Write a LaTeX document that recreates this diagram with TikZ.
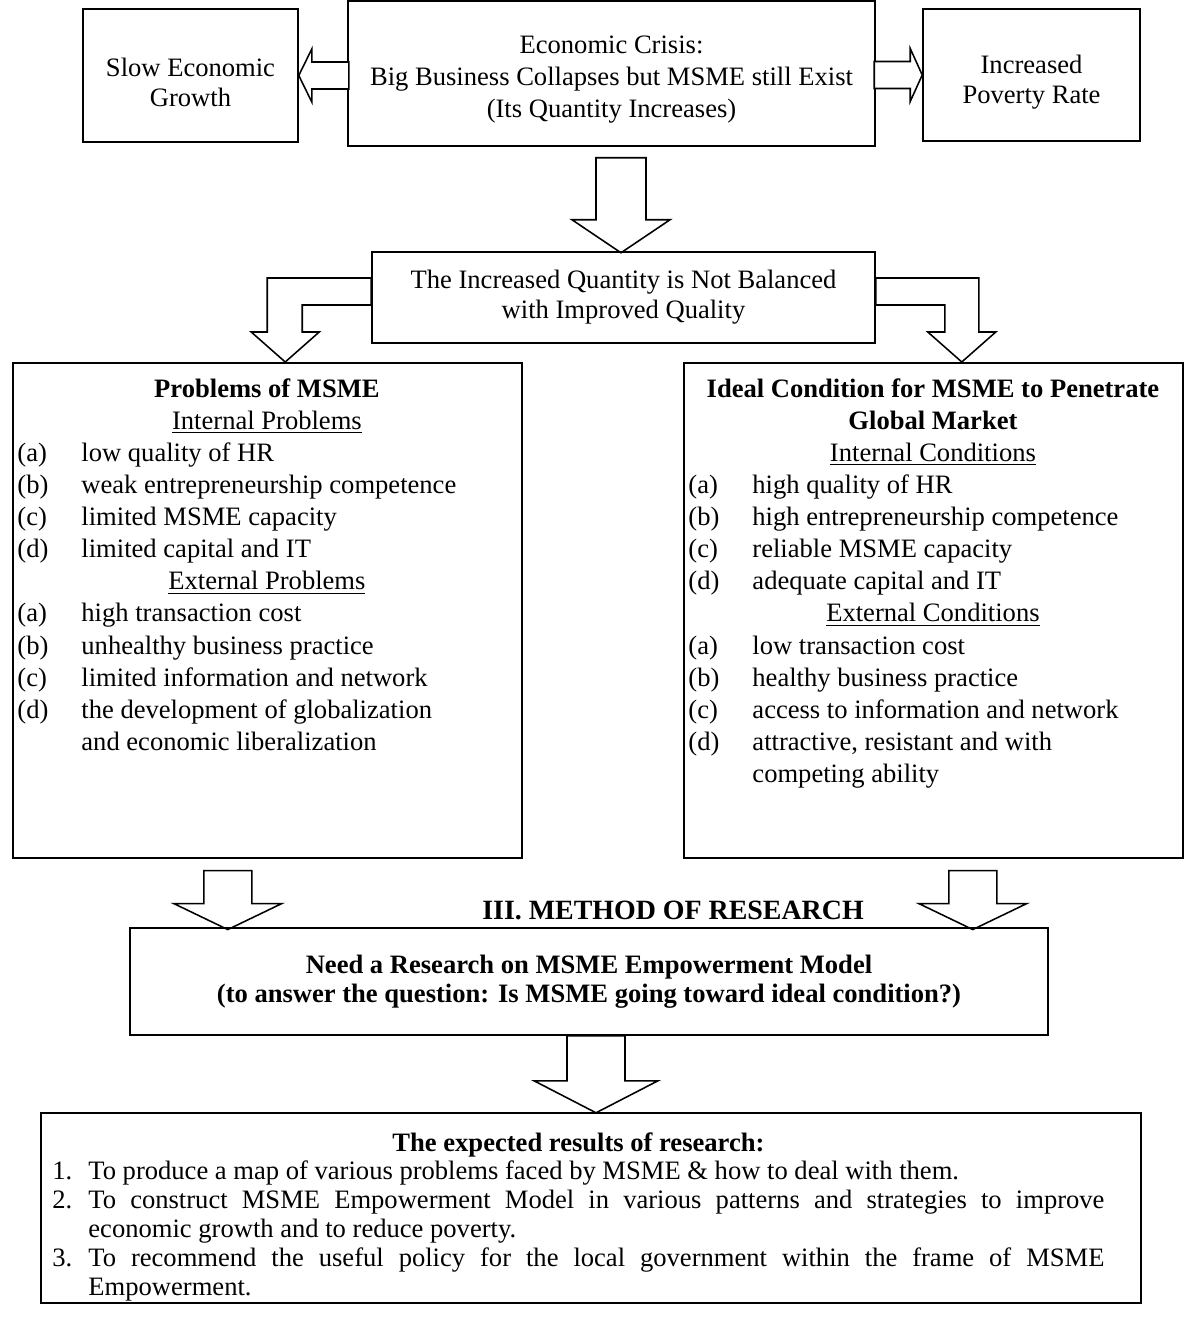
\documentclass[tikz,border=0pt]{standalone}
\usepackage{fontspec}
\setmainfont{Liberation Serif}
\usetikzlibrary{calc}

\newlength{\upx}\setlength{\upx}{0.4515pt}
% list lines inside the boxes
\newcommand{\litem}[2]{\par\noindent\hangindent=64\upx\hangafter=1\makebox[64\upx][l]{#1}#2\par}
\newcommand{\ritem}[2]{\par\noindent\hangindent=36\upx\hangafter=1\makebox[36\upx][l]{#1}#2\par}

\begin{document}
\begin{tikzpicture}[x=0.4515pt,y=-0.4515pt,
    every node/.style={font=\fontsize{12}{13.6}\selectfont},
    box/.style={draw, line width=0.7pt, inner sep=0pt, align=center},
    boxtext/.style={inner sep=0pt, align=center},
    hollow/.style={draw, line width=0.7pt, fill=white, line join=miter}]
  \useasboundingbox (0,0) rectangle (1184,1320);

  % top row
  \node[box, minimum width=215\upx, minimum height=133\upx] (slow) at (190.5,75.5) {};
  \node[boxtext] (slowtxt) at ($(slow.center)+(0,7)$) {Slow Economic\\Growth};
  \node[box, minimum width=527\upx, minimum height=145\upx] (crisis) at (611.5,73.5) {};
  \node[boxtext, font=\fontsize{12}{14.5}\selectfont] (crisistxt) at ($(crisis.center)+(0,6)$)
    {Economic Crisis:\\Big Business Collapses but MSME still Exist\\(Its Quantity Increases)};
  \node[box, minimum width=217\upx, minimum height=132\upx] (incr) at (1031.5,75) {};
  \node[boxtext] (incrtxt) at ($(incr.center)+(0,7)$) {Increased\\Poverty Rate};

  \draw[hollow] (slow.east) -- ++(13,-26.5) -- ++(0,13) -- ++(37,0) -- ++(0,27)
    -- ++(-37,0) -- ++(0,13) -- cycle;
  \draw[hollow] (incr.west) -- ++(-12,-26.5) -- ++(0,13) -- ++(-36,0) -- ++(0,27)
    -- ++(36,0) -- ++(0,13) -- cycle;
  \draw[hollow] ($(crisis.south)+(-15.5,11)$) -- ++(0,62) -- ++(-24,0) -- ++(49,33)
    -- ++(49,-33) -- ++(-24,0) -- ++(0,-62) -- cycle;

  % quantity vs quality
  \node[box, minimum width=503\upx, minimum height=91\upx] (qual) at (623.5,297.5)
    {The Increased Quantity is Not Balanced\\with Improved Quality};

  \draw[hollow] ($(qual.west)+(0,-19.5)$) -- ++(-104,0) -- ++(0,54) -- ++(-16,0) -- ++(34,30)
    -- ++(34,-30) -- ++(-17,0) -- ++(0,-27) -- ++(69,0) -- cycle;
  \draw[hollow] ($(qual.east)+(0,-19.5)$) -- ++(103,0) -- ++(0,54) -- ++(17,0) -- ++(-34,30)
    -- ++(-34,-30) -- ++(17,0) -- ++(0,-27) -- ++(-69,0) -- cycle;

  % problems and ideal condition
  \node[box, minimum width=509\upx, minimum height=495\upx, anchor=north west] (prob) at (12,362) {};
  \node[box, minimum width=499\upx, minimum height=495\upx, anchor=north west] (ideal) at (683,362) {};

  \node[anchor=north west, inner sep=0pt] (probtxt) at ($(prob.north west)+(5,16)$) {%
    \begin{minipage}{499\upx}\fontsize{12}{14.5}\selectfont
      {\centering\textbf{Problems of MSME}\par\underline{Internal Problems}\par}
      \litem{(a)}{low quality of HR}
      \litem{(b)}{weak entrepreneurship competence}
      \litem{(c)}{limited MSME capacity}
      \litem{(d)}{limited capital and IT}
      {\centering\underline{External Problems}\par}
      \litem{(a)}{high transaction cost}
      \litem{(b)}{unhealthy business practice}
      \litem{(c)}{limited information and network}
      \litem{(d)}{the development of globalization\\and economic liberalization}
    \end{minipage}};
  \node[anchor=north west, inner sep=0pt] (idealtxt) at ($(ideal.north west)+(5,16)$) {%
    \begin{minipage}{489\upx}\fontsize{12}{14.5}\selectfont
      {\centering\textbf{Ideal Condition for MSME to Penetrate\\Global Market}\par\underline{Internal Conditions}\par}
      \litem{(a)}{high quality of HR}
      \litem{(b)}{high entrepreneurship competence}
      \litem{(c)}{reliable MSME capacity}
      \litem{(d)}{adequate capital and IT}
      {\centering\underline{External Conditions}\par}
      \litem{(a)}{low transaction cost}
      \litem{(b)}{healthy business practice}
      \litem{(c)}{access to information and network}
      \litem{(d)}{attractive, resistant and with\\competing ability}
    \end{minipage}};

  \draw[hollow] ($(prob.south)+(-63.5,12)$) -- ++(0,33) -- ++(-30,0) -- ++(54,26)
    -- ++(54,-26) -- ++(-30,0) -- ++(0,-33) -- cycle;
  \draw[hollow] ($(ideal.south)+(15.5,12)$) -- ++(0,33) -- ++(-30,0) -- ++(54,26)
    -- ++(54,-26) -- ++(-30,0) -- ++(0,-33) -- cycle;

  \node[font=\fontsize{12.6}{15}\selectfont\bfseries] (meth) at (673,910) {III. METHOD OF RESEARCH};

  % research need
  \node[box, minimum width=918\upx, minimum height=107\upx, font=\fontsize{12}{13.2}\selectfont\bfseries]
    (need) at (589,981.5)
    {Need a Research on MSME Empowerment Model\\(to answer the question: Is MSME going toward ideal condition?)};

  \draw[hollow] ($(need.south)+(-22,0)$) -- ++(0,45) -- ++(-33,0) -- ++(62,32)
    -- ++(62,-32) -- ++(-33,0) -- ++(0,-45) -- cycle;

  % expected results
  \node[box, minimum width=1100\upx, minimum height=190\upx, anchor=north west] (res) at (40,1112) {};
  \node[anchor=north west, inner sep=0pt] (restxt) at ($(res.north west)+(12,20)$) {%
    \begin{minipage}{1052\upx}\fontsize{12}{13}\selectfont\hyphenpenalty=10000
      {\centering\textbf{The expected results of research:}\par}
      \ritem{1.}{To produce a map of various problems faced by MSME \& how to deal with them.}
      \ritem{2.}{To construct MSME Empowerment Model in various patterns and strategies to improve economic growth and to reduce poverty.}
      \ritem{3.}{To recommend the useful policy for the local government within the frame of MSME Empowerment.}
    \end{minipage}};
\end{tikzpicture}
\end{document}
